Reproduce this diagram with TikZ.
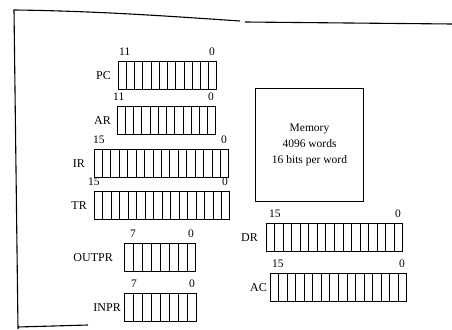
\documentclass[tikz,border=0pt]{standalone}
\usepackage{fontspec}
\setmainfont{Liberation Serif}
\usetikzlibrary{calc}
\tikzset{
  regbox/.style={draw, line width=1pt, inner sep=0pt, anchor=north west},
  cellline/.style={line width=0.9pt},
  lab/.style={font=\fontsize{12}{14}\selectfont, anchor=east, inner sep=0pt},
  bitnum/.style={font=\fontsize{11.5}{13}\selectfont, inner sep=0pt},
  framel/.style={line width=1.1pt},
  membox/.style={draw, line width=1pt, anchor=north west, align=center,
    font=\fontsize{11.5}{16}\selectfont},
}
% #1 name, #2 x, #3 y (top), #4 cells, #5 width, #6 label, #7 high bit, #8 high-bit shift, #9 label gap
\newcommand\Register[9]{%
  \node[regbox, minimum width=#5pt, minimum height=28pt] (#1) at (#2,#3) {};
  \pgfmathtruncatemacro\nlast{#4-1}%
  \foreach \k in {1,...,\nlast}
    \draw[cellline] ($(#1.north west)!\k/#4!(#1.north east)$) -- ($(#1.south west)!\k/#4!(#1.south east)$);
  \node[lab] (#1-lab) at ([xshift=-#9pt]#1.west) {#6};
  \node[bitnum, anchor=south west] (#1-hi) at ([xshift=#8pt, yshift=5pt]#1.north west) {#7};
  \node[bitnum, anchor=south east] (#1-lo) at ([xshift=-2pt, yshift=5pt]#1.north east) {0};
}
\begin{document}
\begin{tikzpicture}[x=1pt, y=-1pt]
\useasboundingbox (0,0) rectangle (452,329);
% page frame
\coordinate (f1) at (18,329);
\coordinate (f2) at (14,10);
\coordinate (f3) at (240,21);
\coordinate (f4) at (245,22);
\coordinate (f5) at (452,24);
\coordinate (f6) at (18,327);
\coordinate (f7) at (88,325);
\draw[framel] (f1) -- (f2) .. controls (100,11) and (180,17) .. (f3);
\draw[framel] (f4) -- (f5);
\draw[framel] (f6) -- (f7);
% registers
\Register{PC}{118}{61}{12}{98}{PC}{11}{1}{7}
\Register{AR}{117}{106}{12}{98}{AR}{11}{-4}{6}
\Register{IR}{94}{149}{16}{134}{IR}{15}{-1}{9}
\Register{TR}{94}{191}{16}{135}{TR}{15}{-6}{7}
\Register{OUTPR}{124}{243}{8}{71}{OUTPR}{7}{6}{11}
\Register{INPR}{124}{293}{8}{72}{INPR}{7}{7}{3}
\Register{DR}{266}{223}{16}{136}{DR}{15}{3}{8}
\Register{AC}{270}{273}{16}{136}{AC}{15}{2}{3}
% memory
\node[membox, minimum width=108pt, minimum height=113pt] (mem) at (255,88)
  {Memory\\4096 words\\16 bits per word};
\end{tikzpicture}
\end{document}
